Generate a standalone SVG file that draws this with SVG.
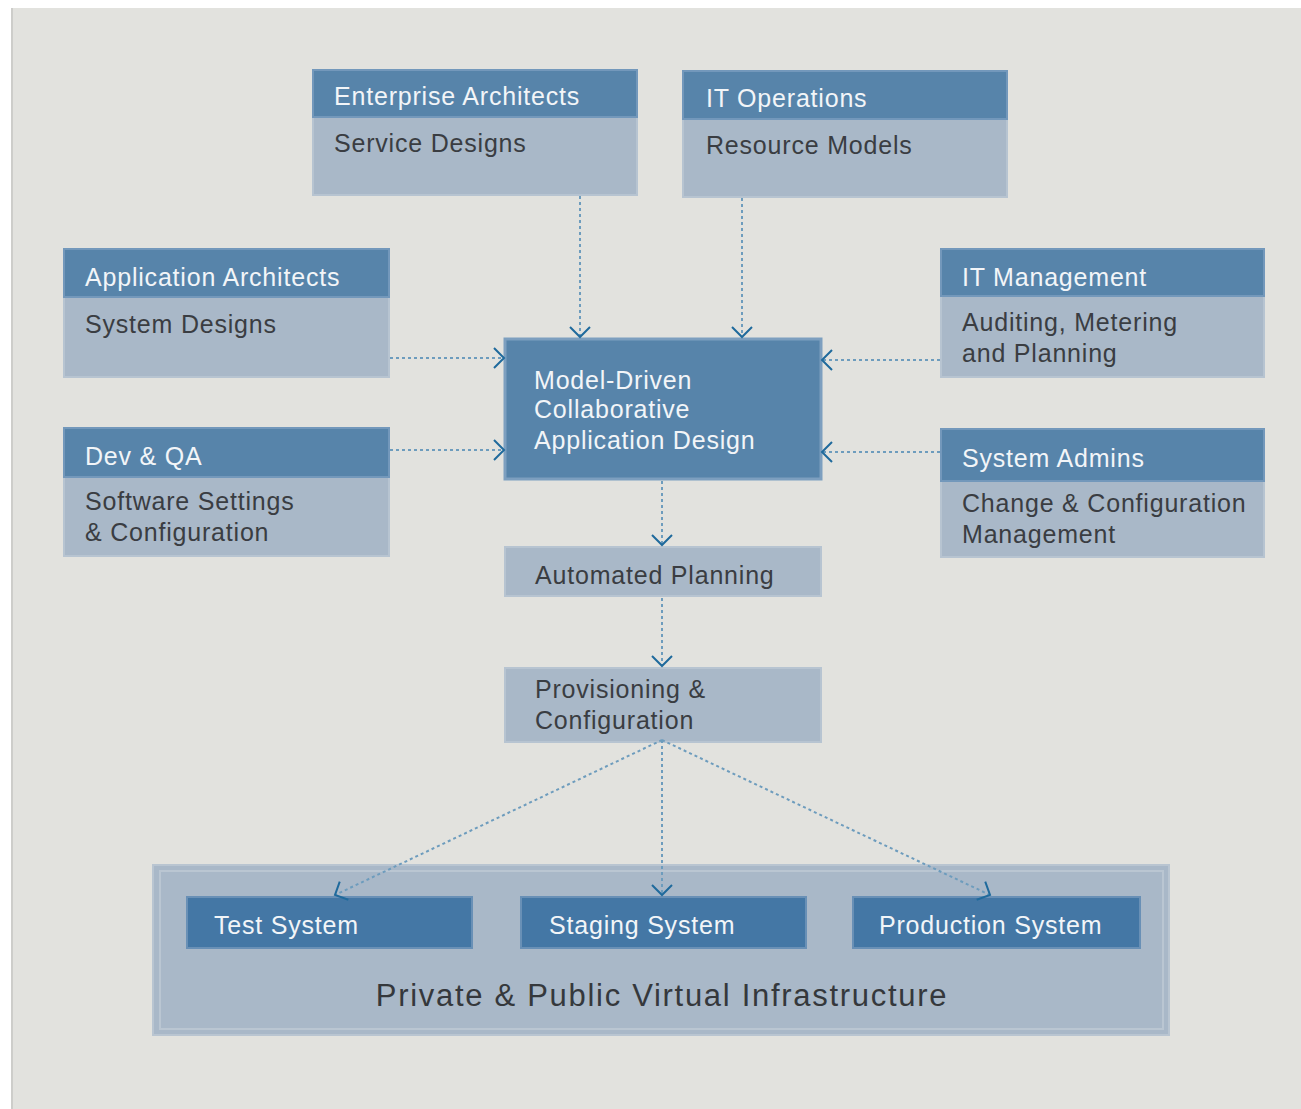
<svg xmlns="http://www.w3.org/2000/svg" width="1301" height="1109" viewBox="0 0 1301 1109">
<style>
.hd{fill:#5784aa;stroke:#7398bb;stroke-width:2}
.bd{fill:#a9b8c8;stroke:#b7c4d1;stroke-width:2}
.sys{fill:#4477a5;stroke:#6990b6;stroke-width:2}
.ht{font-family:"Liberation Sans",Arial,sans-serif;font-size:25px;fill:#f2f5f8;letter-spacing:0.8px}
.bt{font-family:"Liberation Sans",Arial,sans-serif;font-size:25px;fill:#3a3d42;letter-spacing:0.8px}
.con{fill:none;stroke:#6d9cbd;stroke-width:2;stroke-dasharray:3 3}
</style>
<defs>
<marker id="ah" viewBox="0 0 20 24" refX="18" refY="12" markerWidth="20" markerHeight="24" markerUnits="userSpaceOnUse" orient="auto">
<path d="M8 2 L18 12 L8 22" fill="none" stroke="#1f6a9c" stroke-width="2"/>
</marker>
</defs>
<rect x="0" y="0" width="1301" height="1109" fill="#ffffff"/>
<rect x="11" y="8" width="1290" height="1101" fill="#e2e2de"/>
<rect x="11" y="8" width="2" height="1101" fill="#cdcdca"/>

<g id="infrastructure">
<rect x="153" y="865" width="1016" height="170" fill="#a9b8c8" stroke="#b9c5d1" stroke-width="2"/>
<rect x="160" y="871" width="1003" height="158" fill="none" stroke="#bac6d2" stroke-width="2"/>
<text x="662" y="1006" text-anchor="middle" font-family="'Liberation Sans',Arial,sans-serif" font-size="31" letter-spacing="1.7" fill="#35383c">Private &amp; Public Virtual Infrastructure</text>
</g>
<g id="test-system">
<rect class="sys" x="187" y="897" width="285" height="51"/>
<text class="ht" x="214" y="934">Test System</text>
</g>
<g id="staging-system">
<rect class="sys" x="521" y="897" width="285" height="51"/>
<text class="ht" x="549" y="934">Staging System</text>
</g>
<g id="production-system">
<rect class="sys" x="853" y="897" width="287" height="51"/>
<text class="ht" x="879" y="934">Production System</text>
</g>

<g id="enterprise-architects">
<rect class="bd" x="313" y="117" width="324" height="78"/>
<rect class="hd" x="313" y="70" width="324" height="47"/>
<text class="ht" x="334" y="105">Enterprise Architects</text>
<text class="bt" x="334" y="152">Service Designs</text>
</g>
<g id="it-operations">
<rect class="bd" x="683" y="119" width="324" height="78"/>
<rect class="hd" x="683" y="71" width="324" height="48"/>
<text class="ht" x="706" y="107">IT Operations</text>
<text class="bt" x="706" y="154">Resource Models</text>
</g>
<g id="application-architects">
<rect class="bd" x="64" y="297" width="325" height="80"/>
<rect class="hd" x="64" y="249" width="325" height="48"/>
<text class="ht" x="85" y="286">Application Architects</text>
<text class="bt" x="85" y="333">System Designs</text>
</g>
<g id="dev-qa">
<rect class="bd" x="64" y="477" width="325" height="79"/>
<rect class="hd" x="64" y="428" width="325" height="49"/>
<text class="ht" x="85" y="465">Dev &amp; QA</text>
<text class="bt" x="85" y="510">Software Settings</text>
<text class="bt" x="85" y="541">&amp; Configuration</text>
</g>
<g id="it-management">
<rect class="bd" x="941" y="296" width="323" height="81"/>
<rect class="hd" x="941" y="249" width="323" height="47"/>
<text class="ht" x="962" y="286">IT Management</text>
<text class="bt" x="962" y="331">Auditing, Metering</text>
<text class="bt" x="962" y="362">and Planning</text>
</g>
<g id="system-admins">
<rect class="bd" x="941" y="481" width="323" height="76"/>
<rect class="hd" x="941" y="429" width="323" height="52"/>
<text class="ht" x="962" y="467">System Admins</text>
<text class="bt" x="962" y="512">Change &amp; Configuration</text>
<text class="bt" x="962" y="543">Management</text>
</g>
<g id="model-driven-design">
<rect x="505" y="339" width="316" height="140" fill="#5784aa" stroke="#7d9fbf" stroke-width="3"/>
<text class="ht" x="534" y="389">Model-Driven</text>
<text class="ht" x="534" y="418">Collaborative</text>
<text class="ht" x="534" y="449">Application Design</text>
</g>
<g id="automated-planning">
<rect class="bd" x="505" y="547" width="316" height="49"/>
<text class="bt" x="535" y="584">Automated Planning</text>
</g>
<g id="provisioning">
<rect class="bd" x="505" y="668" width="316" height="74"/>
<text class="bt" x="535" y="698">Provisioning &amp;</text>
<text class="bt" x="535" y="729">Configuration</text>
</g>

<g id="connectors">
<path class="con" d="M580 196 V337" marker-end="url(#ah)"/>
<path class="con" d="M742 198 V337" marker-end="url(#ah)"/>
<path class="con" d="M390 358 H504" marker-end="url(#ah)"/>
<path class="con" d="M390 450 H504" marker-end="url(#ah)"/>
<path class="con" d="M940 360 H822" marker-end="url(#ah)"/>
<path class="con" d="M940 452 H822" marker-end="url(#ah)"/>
<path class="con" d="M662 481 V545" marker-end="url(#ah)"/>
<path class="con" d="M662 598 V666" marker-end="url(#ah)"/>
<path class="con" d="M662 740 V895" marker-end="url(#ah)"/>
<path class="con" d="M662 740 L335 895" marker-end="url(#ah)"/>
<path class="con" d="M662 740 L990 895" marker-end="url(#ah)"/>
</g>
</svg>
